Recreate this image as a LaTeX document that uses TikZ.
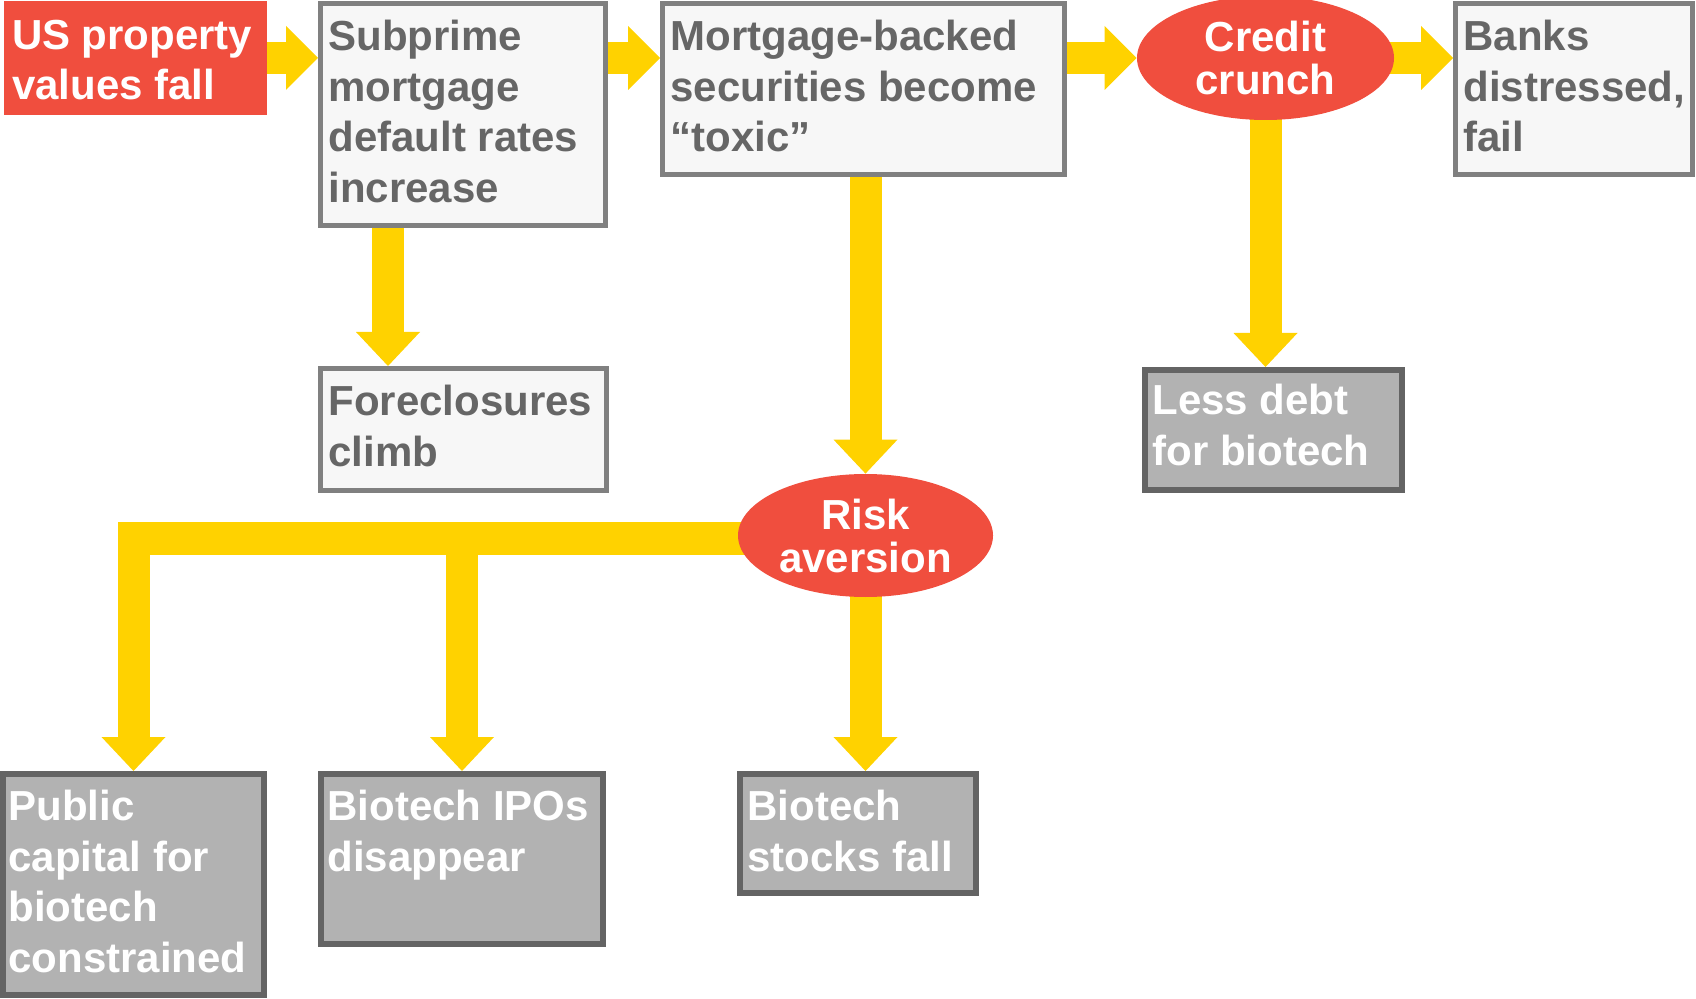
\documentclass[tikz,border=0pt]{standalone}
\usepackage{fontspec}
\setmainfont{Liberation Sans}
\definecolor{crisisRed}{HTML}{F04E3E}
\definecolor{crisisYellow}{HTML}{FFD200}
\definecolor{crisisGray}{HTML}{666666}
\definecolor{lightFill}{HTML}{F7F7F7}
\definecolor{lightEdge}{HTML}{808080}
\definecolor{darkFill}{HTML}{B2B2B2}
\definecolor{darkEdge}{HTML}{646464}
\usetikzlibrary{calc, shapes.geometric, backgrounds}

\newcommand{\rightblock}[2]{%
  \draw[shaft] (#1) -- ($(#2)+(-31,0)$);
  \fill[crisisYellow] ($(#2)+(-32,-32)$) -- (#2) -- ($(#2)+(-32,32)$) -- cycle;}
\newcommand{\downblock}[2]{%
  \draw[shaft] (#1) -- ($(#2)+(0,-33)$);
  \fill[crisisYellow] ($(#2)+(-32,-34)$) -- (#2) -- ($(#2)+(32,-34)$) -- cycle;}

\begin{document}
\begin{tikzpicture}[x=0.5pt, y=-0.5pt,
    lightbox/.style={draw=lightEdge, fill=lightFill, line width=2.5pt, inner sep=0pt},
    darkbox/.style={draw=darkEdge, fill=darkFill, line width=3pt, inner sep=0pt},
    redbox/.style={fill=crisisRed, inner sep=0pt},
    bubble/.style={ellipse, fill=crisisRed, inner sep=0pt, text=white, align=center,
        font=\fontsize{21pt}{21.5pt}\selectfont\bfseries},
    boxtext/.style={anchor=north west, inner sep=0pt, align=left, text=crisisGray,
        font=\fontsize{21pt}{25.25pt}\selectfont\bfseries},
    shaft/.style={draw=crisisYellow, line width=16pt}]
        \useasboundingbox (0,0) rectangle (1696,999);

        % Top row
        \node[redbox, minimum width=131.5pt, minimum height=57pt] (us) at (135.5,58) {};
        \node[lightbox, minimum width=142.5pt, minimum height=111pt] (subprime) at (463,114.5) {};
        \node[lightbox, minimum width=201pt, minimum height=85.5pt] (mbs) at (863.5,89) {};
        \node[bubble, minimum width=128.5pt, minimum height=62pt] (crunch) at (1265.5,58) {Credit\\crunch};
        \node[lightbox, minimum width=118.5pt, minimum height=85.5pt] (banks) at (1574,89) {};

        % Middle row
        \node[lightbox, minimum width=143pt, minimum height=61pt] (foreclosures) at (463.5,429.5) {};
        \node[darkbox, minimum width=128.5pt, minimum height=60pt] (lessdebt) at (1273.5,430) {};
        \node[bubble, minimum width=127.5pt, minimum height=61.5pt] (risk) at (865.5,535.5) {Risk\\aversion};

        % Bottom row
        \node[darkbox, minimum width=130.5pt, minimum height=110.5pt] (public) at (133.5,884.5) {};
        \node[darkbox, minimum width=141pt, minimum height=85pt] (ipos) at (462,859) {};
        \node[darkbox, minimum width=118pt, minimum height=59.5pt] (stocks) at (858,833.5) {};

        % Box texts
        \node[boxtext, text=white] (us-t) at ($(us.north west)+(8,19)$) {US property\\values fall};
        \node[boxtext] (subprime-t) at ($(subprime.north west)+(10,19)$) {Subprime\\mortgage\\default rates\\increase};
        \node[boxtext] (mbs-t) at ($(mbs.north west)+(10,19)$) {Mortgage-backed\\securities become\\“toxic”};
        \node[boxtext] (banks-t) at ($(banks.north west)+(10,19)$) {Banks\\distressed,\\fail};
        \node[boxtext] (foreclosures-t) at ($(foreclosures.north west)+(10,19)$) {Foreclosures\\climb};
        \node[boxtext, text=white] (lessdebt-t) at ($(lessdebt.north west)+(10,17)$) {Less debt\\for biotech};
        \node[boxtext, text=white] (public-t) at ($(public.north west)+(8,19)$) {Public\\capital for\\biotech\\constrained};
        \node[boxtext, text=white] (ipos-t) at ($(ipos.north west)+(9,19)$) {Biotech IPOs\\disappear};
        \node[boxtext, text=white] (stocks-t) at ($(stocks.north west)+(10,19)$) {Biotech\\stocks fall};

        % Yellow arrows
        \begin{scope}[on background layer]
            \coordinate (forkA) at ($(subprime.south west)+(70,0)$);
            \coordinate (forkB) at ($(risk.center)+(0,3)$);
            \rightblock{us.east}{subprime.west |- us.east}
            \rightblock{subprime.east |- us.east}{mbs.west |- us.east}
            \rightblock{mbs.east |- crunch.west}{crunch.west}
            \rightblock{crunch.center}{banks.west |- crunch.center}
            \downblock{forkA}{forkA |- foreclosures.north}
            \downblock{mbs.south -| risk.north}{risk.north}
            \downblock{crunch.center}{crunch.center |- lessdebt.north}
            \downblock{risk.center}{risk.center |- stocks.north}
            \downblock{ipos.north |- forkB}{ipos.north}
            \draw[shaft, line join=miter] (forkB) -| ($(public.north)+(0,-33)$);
            \fill[crisisYellow] ($(public.north)+(-32,-34)$) -- (public.north) -- ($(public.north)+(32,-34)$) -- cycle;
        \end{scope}
    \end{tikzpicture}
\end{document}
